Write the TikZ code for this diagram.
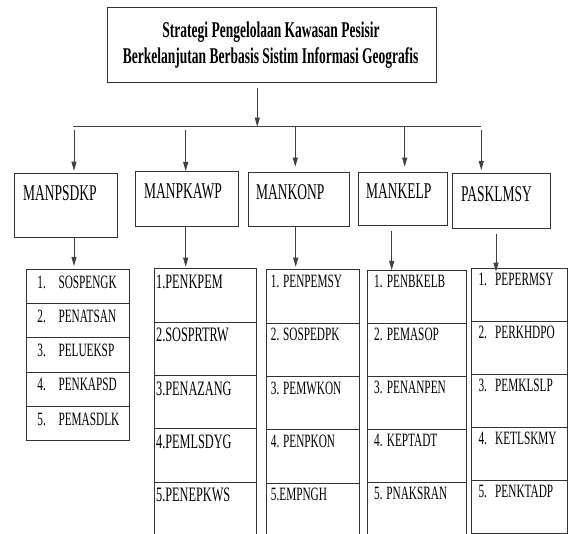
\documentclass[tikz,border=0pt]{standalone}
\usepackage{fontspec}
\setmainfont{Liberation Serif}
\newfontfamily\cond{Liberation Serif}[FakeStretch=0.6]
\usetikzlibrary{arrows.meta,calc}
\tikzset{
  frame/.style={draw=black!80, line width=0.9pt, rectangle, inner sep=0pt, anchor=north west},
  conn/.style={draw=black!75, line width=0.8pt},
  arr/.style={conn, -{Triangle[length=9pt,width=5pt]}},
  ttl/.style={font=\cond\bfseries\fontsize{22.5}{26}\selectfont, anchor=base, inner sep=0pt, text=black},
  lvl/.style={font=\cond\fontsize{22.5}{26}\selectfont, anchor=base west, inner sep=0pt, text=black},
  itm/.style={font=\cond\fontsize{18.8}{22}\selectfont, anchor=base west, inner sep=0pt, text=black},
  itmb/.style={itm, font=\cond\fontsize{20.5}{24}\selectfont}
}
\begin{document}
\begin{tikzpicture}[x=1pt,y=-1pt]
\useasboundingbox (0,0) rectangle (568,534);
\begin{scope}
\clip (0,0) rectangle (568,534);
% title
\node[frame, minimum width=329pt, minimum height=74.4pt] (top) at (107.3,7.3) {};
\node[ttl] (t1) at (271,37.3) {Strategi Pengelolaan Kawasan Pesisir};
\node[ttl] (t2) at (270.7,63.3) {Berkelanjutan Berbasis Sistim Informasi Geografis};
% bar
\coordinate (hL) at (73.3,126.7);
\coordinate (hR) at (481.3,126.7);
\coordinate (xm) at (257.3,0);
\draw[conn] (hL) -- (hR);
\draw[arr, shorten <=5.6pt] (top.south -| xm) -- (hL -| xm);
% second level boxes
\node[frame, minimum width=103pt, minimum height=64pt] (b1) at (14.3,173.3) {};
\node[frame, minimum width=102.7pt, minimum height=54.7pt] (b2) at (135,171) {};
\node[frame, minimum width=101.6pt, minimum height=54pt] (b3) at (247.7,171.7) {};
\node[frame, minimum width=88.2pt, minimum height=53.8pt] (b4) at (358.3,171.7) {};
\node[frame, minimum width=97.7pt, minimum height=54.4pt] (b5) at (452.3,173.3) {};
\node[lvl] (n1) at (23,200.7) {MANPSDKP};
\node[lvl] (n2) at (144,199) {MANPKAWP};
\node[lvl] (n3) at (256,199.3) {MANKONP};
\node[lvl] (n4) at (366,199) {MANKELP};
\node[lvl] (n5) at (461,201.7) {PASKLMSY};
% arrows from bar
\coordinate (a1) at (74,0);
\coordinate (a2) at (185.7,0);
\coordinate (a3) at (295.3,0);
\coordinate (a4) at (404.7,0);
\coordinate (a5) at (481.3,0);
\draw[arr, shorten <=3.3pt, shorten >=2.6pt] (hL -| a1) -- (b1.north -| a1);
\draw[arr, shorten <=3.3pt] (hL -| a2) -- (b2.north -| a2);
\draw[arr, shorten >=5pt] (hL -| a3) -- (b3.north -| a3);
\draw[arr, shorten >=5pt] (hL -| a4) -- (b4.north -| a4);
\draw[arr, shorten <=3.3pt, shorten >=3.3pt] (hL -| a5) -- (b5.north -| a5);
% lists
\foreach \t [count=\i] in {SOSPENGK,PENATSAN,PELUEKSP,PENKAPSD,PEMASDLK} {
  \node[frame, minimum width=103pt, minimum height=34.2pt] (l1-\i) at (26,{269+(\i-1)*34.2}) {};
  \node[itm] (l1n-\i) at ($(l1-\i.north west)+(11.3,19.3)$) {\i.};
  \node[itm] (l1t-\i) at ($(l1-\i.north west)+(32.3,19.3)$) {\t};
}
\foreach \t [count=\i] in {1.PENKPEM,2.SOSPRTRW,3.PENAZANG,4.PEMLSDYG,5.PENEPKWS} {
  \node[frame, minimum width=101.4pt, minimum height=53.4pt] (l2-\i) at (154.3,{268.3+(\i-1)*53.4}) {};
  \node[itmb] (l2t-\i) at ($(l2-\i.north west)+(1.6,20)$) {\t};
}
\foreach \t [count=\i] in {1. PENPEMSY,2. SOSPEDPK,3. PEMWKON,4. PENPKON,5.EMPNGH} {
  \node[frame, minimum width=93.6pt, minimum height=53.35pt] (l3-\i) at (265.7,{269.3+(\i-1)*53.35}) {};
  \node[itm] (l3t-\i) at ($(l3-\i.north west)+(5,18.3)$) {\t};
}
\foreach \t [count=\i] in {PENBKELB,PEMASOP,PENANPEN,KEPTADT} {
  \node[frame, minimum width=99pt, minimum height=53.1pt] (l4-\i) at (367,{270+(\i-1)*53.1}) {};
  \node[itm] (l4n-\i) at ($(l4-\i.north west)+(7,17.3)$) {\i.};
  \node[itm] (l4t-\i) at ($(l4-\i.north west)+(19.7,17.3)$) {\t};
}
\node[frame, minimum width=99pt, minimum height=53.1pt] (l4-5) at (367,{270+4*53.1}) {};
\node[itm] (l4t-5) at ($(l4-5.north west)+(7,17.3)$) {5. PNAKSRAN};
\foreach \t [count=\i] in {PEPERMSY,PERKHDPO,PEMKLSLP,KETLSKMY,PENKTADP} {
  \node[frame, minimum width=96.5pt, minimum height=53pt] (l5-\i) at (470.5,{268.3+(\i-1)*53}) {};
  \node[itm] (l5n-\i) at ($(l5-\i.north west)+(7.8,17.3)$) {\i.};
  \node[itm] (l5t-\i) at ($(l5-\i.north west)+(24.5,17.3)$) {\t};
}
% arrows to lists
\coordinate (c1) at (74,0);
\coordinate (c2) at (185.7,0);
\coordinate (c3) at (295.7,0);
\coordinate (c4) at (391.7,0);
\coordinate (c5) at (496,0);
\draw[arr, shorten >=3pt] (b1.south -| c1) -- (l1-1.north -| c1);
\draw[arr, shorten >=1.6pt] (b2.south -| c2) -- (l2-1.north -| c2);
\draw[arr, shorten >=2.6pt] (b3.south -| c3) -- (l3-1.north -| c3);
\draw[arr, shorten <=4.3pt] (b4.south -| c4) -- (l4-1.north -| c4);
\draw[arr, shorten <=5pt, shorten >=-3.4pt] (b5.south -| c5) -- (l5-1.north -| c5);
\end{scope}
\end{tikzpicture}
\end{document}
